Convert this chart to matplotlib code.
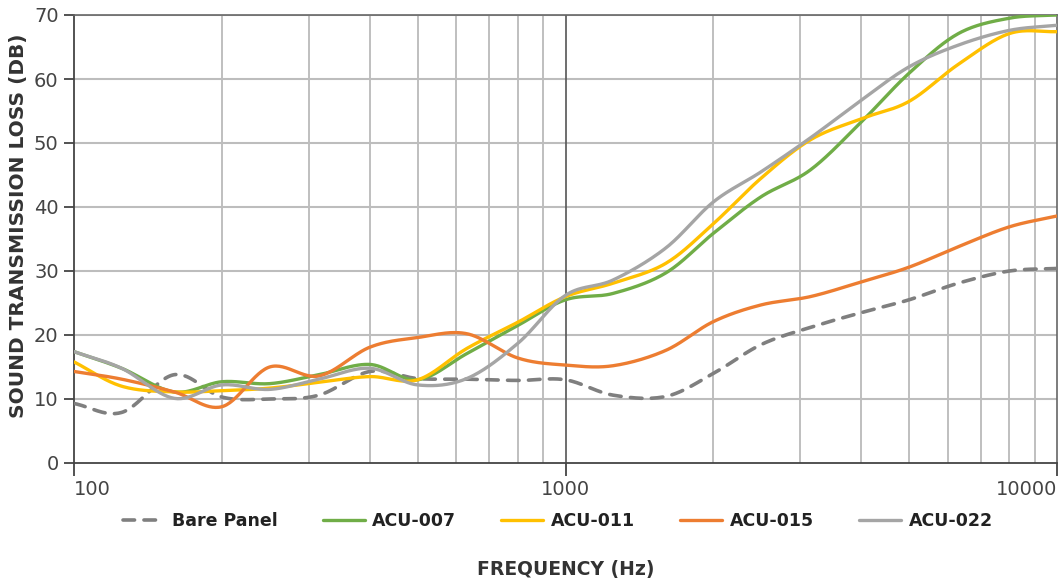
import numpy as np
import matplotlib
matplotlib.use("Agg")
import matplotlib.pyplot as plt

freqs = [100, 125, 160, 200, 250, 315, 400, 500, 630, 800, 1000, 1250, 1600,
         2000, 2500, 3150, 4000, 5000, 6300, 8000, 10000]

bare_panel = [9.3, 7.9, 13.8, 10.3, 10.0, 10.6, 14.3, 13.2, 13.1, 12.9, 13.0, 10.6,
              10.4, 14.0, 18.5, 21.2, 23.5, 25.5, 28.1, 30.0, 30.4]
acu_007 = [17.4, 14.8, 11.1, 12.7, 12.4, 13.8, 15.4, 13.0, 17.1, 21.5, 25.5, 26.5,
           29.7, 35.9, 41.6, 45.8, 53.3, 60.9, 67.1, 69.5, 70.0]
acu_011 = [15.8, 12.0, 11.1, 11.3, 11.7, 12.6, 13.5, 13.0, 17.9, 22.0, 26.0, 28.1,
           31.2, 37.4, 44.5, 50.5, 53.8, 56.5, 62.3, 67.1, 67.4]
acu_015 = [14.3, 13.1, 11.1, 8.8, 15.0, 13.6, 18.1, 19.6, 20.2, 16.4, 15.3, 15.2,
           17.6, 22.1, 24.7, 26.0, 28.3, 30.6, 33.8, 36.9, 38.6]
acu_022 = [17.4, 14.8, 10.1, 12.2, 11.5, 13.1, 14.8, 12.2, 13.2, 18.7, 26.2, 28.6,
           33.6, 40.8, 45.5, 50.8, 56.7, 61.9, 65.3, 67.6, 68.4]

series_names = ["Bare Panel", "ACU-007", "ACU-011", "ACU-015", "ACU-022"]
series_values = [bare_panel, acu_007, acu_011, acu_015, acu_022]
colors = ["#7f7f7f", "#70AD47", "#FFC000", "#ED7D31", "#A5A5A5"]

x_ticks = [100, 1000, 10000]
y_ticks = [0, 10, 20, 30, 40, 50, 60, 70]


def catmull_rom(xs, ys, n=30):
    u = np.log10(np.asarray(xs, float))
    y = np.asarray(ys, float)
    pu = np.concatenate([[2 * u[0] - u[1]], u, [2 * u[-1] - u[-2]]])
    py = np.concatenate([[2 * y[0] - y[1]], y, [2 * y[-1] - y[-2]]])
    out_u, out_y = [], []
    t = np.linspace(0, 1, n, endpoint=False)
    for i in range(1, len(pu) - 2):
        for P, out in ((pu, out_u), (py, out_y)):
            p0, p1, p2, p3 = P[i - 1], P[i], P[i + 1], P[i + 2]
            val = 0.5 * ((2 * p1) + (-p0 + p2) * t +
                         (2 * p0 - 5 * p1 + 4 * p2 - p3) * t ** 2 +
                         (-p0 + 3 * p1 - 3 * p2 + p3) * t ** 3)
            out.extend(val)
    out_u.append(u[-1]); out_y.append(y[-1])
    return 10 ** np.array(out_u), np.array(out_y)


fig = plt.figure(figsize=(10.62, 5.80), dpi=100)
ax = fig.add_axes([74 / 1062, 1 - 463 / 580, (1057 - 74) / 1062, (463 - 15) / 580])

ax.set_xscale("log")
ax.set_xlim(100, 10000)
ax.set_ylim(0, 70)

# grid
minor = [m * d for d in (100, 1000) for m in range(2, 10)]
for f in minor:
    ax.axvline(f, color="#b4b4b4", lw=1.2, zorder=1)
for yv in y_ticks[1:]:
    ax.axhline(yv, color="#bdbdbd", lw=1.5, zorder=1)
ax.axvline(1000, color="#555555", lw=1.2, zorder=1)

handles = []
for name, vals, col in zip(series_names, series_values, colors):
    sx, sy = catmull_rom(freqs, vals)
    if name == "Bare Panel":
        ln, = ax.plot(sx, sy, color=col, lw=2.6, linestyle=(0, (3.2, 2.6)),
                      dash_capstyle="round", zorder=3, label=name)
    else:
        ln, = ax.plot(sx, sy, color=col, lw=2.4, solid_capstyle="round",
                      zorder=3, label=name)
    handles.append(ln)

for side in ("top", "right"):
    ax.spines[side].set_color("#666666")
    ax.spines[side].set_linewidth(1.2)
for side in ("left", "bottom"):
    ax.spines[side].set_color("#444444")
    ax.spines[side].set_linewidth(1.3)

ax.set_xticks(x_ticks)
ax.set_xticklabels([str(v) for v in x_ticks])
ax.xaxis.set_minor_locator(matplotlib.ticker.NullLocator())
ax.set_yticks(y_ticks)
ax.set_yticklabels([str(v) for v in y_ticks])
ax.tick_params(axis="x", length=9, width=1.3, color="#444444", pad=3)
ax.tick_params(axis="y", length=7, width=1.3, color="#444444", pad=4)

tick_font = ["Liberation Sans Narrow", "DejaVu Sans"]
for lab in ax.get_xticklabels() + ax.get_yticklabels():
    lab.set_family(tick_font)
    lab.set_fontsize(14)
    lab.set_color("#444444")
xl = ax.get_xticklabels()
xl[0].set_horizontalalignment("left")
xl[-1].set_horizontalalignment("right")

ax.set_ylabel("SOUND TRANSMISSION LOSS (DB)", fontsize=14.5, fontweight="bold",
              color="#333333")
ax.yaxis.set_label_coords(-0.047, 0.53)
fig.text(566 / 1062, 1 - 569 / 580, "FREQUENCY (Hz)", ha="center", va="center",
         fontsize=13.5, fontweight="bold", color="#333333")

leg = fig.legend(handles=handles, loc="center", bbox_to_anchor=(0.525, 1 - 521 / 580),
                 ncol=5, frameon=False, handlelength=2.4, handletextpad=0.45,
                 columnspacing=2.6, prop={"weight": "bold", "size": 12.5})
for t in leg.get_texts():
    t.set_color("#222222")

fig.savefig("out.png", dpi=100)
